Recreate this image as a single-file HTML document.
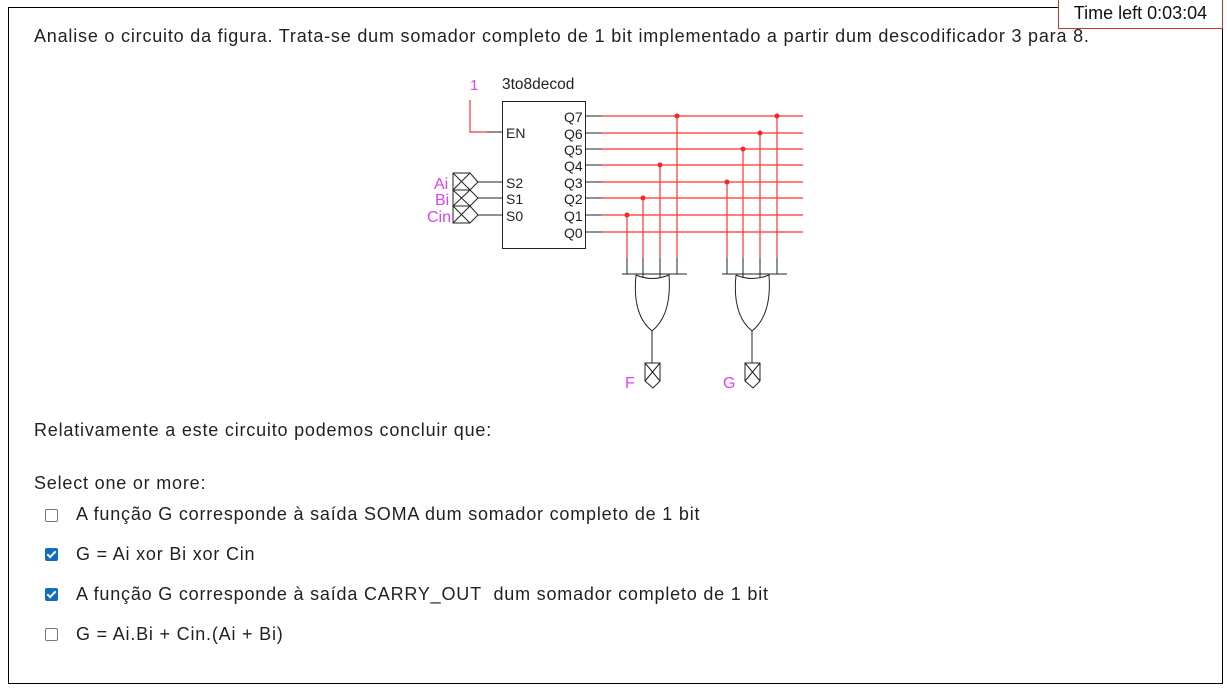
<!DOCTYPE html>
<html><head><meta charset="utf-8"><style>
body{margin:0;width:1227px;height:690px;background:#fff;font-family:"Liberation Sans",sans-serif;color:#1d2125;position:relative;overflow:hidden}
.frame{position:absolute;left:8px;top:7px;width:1213px;height:675px;border:1px solid #000}
.timer{position:absolute;left:1058px;top:-1px;width:163px;height:28px;border:1px solid #c0392b;background:#fff;font-size:18px;line-height:26px;text-align:center;color:#111}
.t{position:absolute;left:34px;font-size:18px;letter-spacing:0.8px;white-space:nowrap}
.cb{position:absolute;left:45px;width:11px;height:11px;border:1px solid #777;border-radius:2px;background:#fff}
.cb.on{background:#0f6cbf;border-color:#0f6cbf}
.cb.on:after{content:"";position:absolute;left:3px;top:0px;width:3px;height:7px;border:solid #fff;border-width:0 2px 2px 0;transform:rotate(45deg)}
.o{left:76px}
</style></head><body>
<div class="frame"></div>
<div class="timer">Time left 0:03:04</div>
<div class="t" style="top:26px">Analise o circuito da figura. Trata-se dum somador completo de 1 bit implementado a partir dum descodificador 3 para 8.</div>
<svg width="1227" height="690" style="position:absolute;left:0;top:0" font-family="Liberation Sans, sans-serif">
<text x="470" y="90" fill="#e040fb" font-size="15">1</text>
<text x="502" y="89" fill="#222" font-size="15.5">3to8decod</text>
<rect x="502.5" y="101.5" width="83" height="147" fill="none" stroke="#222"/>
<polyline points="470,100 470,132 487,132" fill="none" stroke="#f33" stroke-width="1.2"/>
<line x1="487" y1="132" x2="502" y2="132" stroke="#222"/>
<g font-size="14" fill="#222">
<text x="506" y="138">EN</text><text x="506" y="188">S2</text><text x="506" y="204">S1</text><text x="506" y="221">S0</text>
<text x="564" y="122">Q7</text><text x="564" y="139">Q6</text><text x="564" y="155">Q5</text><text x="564" y="171">Q4</text>
<text x="564" y="188">Q3</text><text x="564" y="204">Q2</text><text x="564" y="221">Q1</text><text x="564" y="238">Q0</text>
</g>
<g stroke="#222" fill="none">
<path d="M453,173h17l8,9l-8,8h-17z M453,173l17,17 M470,173l-17,17"/>
<path d="M453,190h17l8,8l-8,8h-17z M453,190l17,16 M470,190l-17,16"/>
<path d="M453,206h17l8,9l-8,8h-17z M453,206l17,17 M470,206l-17,17"/>
<line x1="478" y1="182" x2="502" y2="182"/><line x1="478" y1="198" x2="502" y2="198"/><line x1="478" y1="215" x2="502" y2="215"/>
</g>
<g font-size="16" fill="#e040fb"><text x="434" y="189">Ai</text><text x="435" y="205">Bi</text><text x="427" y="222">Cin</text></g>
<g stroke="#222">
<line x1="585" y1="116" x2="602" y2="116"/><line x1="585" y1="133" x2="602" y2="133"/><line x1="585" y1="149" x2="602" y2="149"/><line x1="585" y1="165" x2="602" y2="165"/>
<line x1="585" y1="182" x2="602" y2="182"/><line x1="585" y1="198" x2="602" y2="198"/><line x1="585" y1="215" x2="602" y2="215"/><line x1="585" y1="232" x2="602" y2="232"/>
</g>
<g stroke="#f33" stroke-width="1.2">
<line x1="602" y1="116" x2="803" y2="116"/><line x1="602" y1="133" x2="803" y2="133"/><line x1="602" y1="149" x2="803" y2="149"/><line x1="602" y1="165" x2="803" y2="165"/>
<line x1="602" y1="182" x2="803" y2="182"/><line x1="602" y1="198" x2="803" y2="198"/><line x1="602" y1="215" x2="803" y2="215"/><line x1="602" y1="232" x2="803" y2="232"/>
<line x1="627" y1="215" x2="627" y2="258"/><line x1="643" y1="198" x2="643" y2="258"/><line x1="660" y1="165" x2="660" y2="258"/><line x1="677" y1="116" x2="677" y2="258"/>
<line x1="727" y1="182" x2="727" y2="258"/><line x1="743" y1="149" x2="743" y2="258"/><line x1="760" y1="133" x2="760" y2="258"/><line x1="777" y1="116" x2="777" y2="258"/>
</g>
<g fill="#f22">
<circle cx="627" cy="215" r="2.5"/><circle cx="643" cy="198" r="2.5"/><circle cx="660" cy="165" r="2.5"/><circle cx="677" cy="116" r="2.5"/>
<circle cx="727" cy="182" r="2.5"/><circle cx="743" cy="149" r="2.5"/><circle cx="760" cy="133" r="2.5"/><circle cx="777" cy="116" r="2.5"/>
</g>
<g stroke="#222" fill="none">
<g id="gF">
<path d="M627,258v16 M643,258v20 M660,258v20 M677,258v16 M622,274h65"/>
<path d="M636,275 Q652,282 669,275 Q672,315 652,331 Q632,315 636,275"/>
<path d="M652,331v32 M645,363h15v18l-7,7l-8,-7z M645,363l15,18 M660,363l-15,18"/>
</g>
<use href="#gF" x="100"/>
</g>
<g font-size="16" fill="#e040fb"><text x="625" y="388">F</text><text x="723" y="388">G</text></g>
</svg>
<div class="t" style="top:420px">Relativamente a este circuito podemos concluir que:</div>
<div class="t" style="top:473px">Select one or more:</div>
<div class="cb" style="top:509px"></div><div class="t o" style="top:504px">A função G corresponde à saída SOMA dum somador completo de 1 bit</div>
<div class="cb on" style="top:548px"></div><div class="t o" style="top:544px">G = Ai xor Bi xor Cin</div>
<div class="cb on" style="top:588px"></div><div class="t o" style="top:584px">A função G corresponde à saída CARRY_OUT&nbsp; dum somador completo de 1 bit</div>
<div class="cb" style="top:628px"></div><div class="t o" style="top:624px">G = Ai.Bi + Cin.(Ai + Bi)</div>
</body></html>
